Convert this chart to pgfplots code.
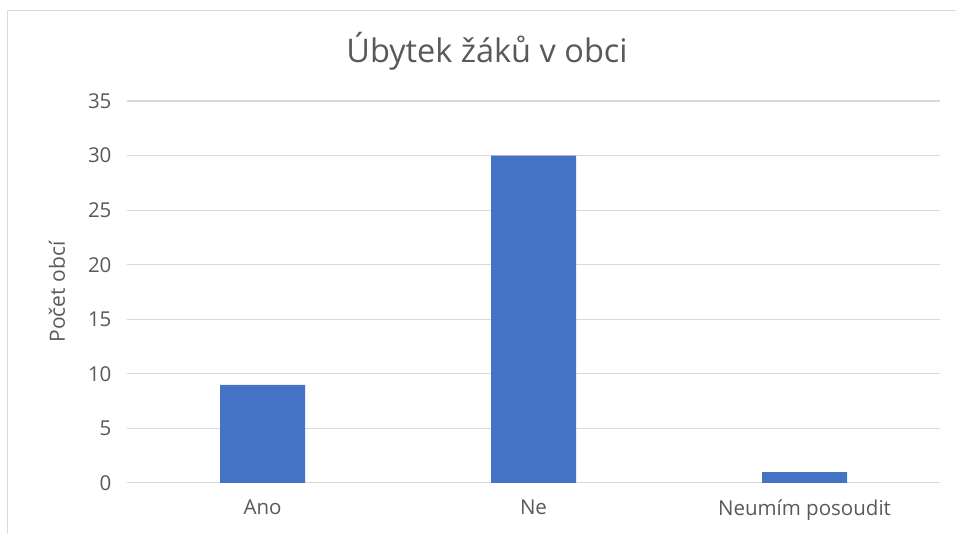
\documentclass[border=0pt]{standalone}
\usepackage{fontspec}
\setmainfont{Open Sans}
\usepackage{pgfplots}
\pgfplotsset{compat=1.18}
\definecolor{bar}{HTML}{4472C4}
\definecolor{grd}{HTML}{D9D9D9}
\definecolor{txt}{HTML}{595959}
\begin{document}
\begin{tikzpicture}
\useasboundingbox (0,0) rectangle (956pt,533pt);
\draw[grd, line width=1pt] (7pt,-10pt) rectangle (970pt,522pt);
\node[txt, font=\fontsize{32.5}{34}\selectfont] at (487pt,482pt) {Úbytek žáků v obci};
\begin{axis}[
  at={(127pt,50pt)}, anchor=south west,
  scale only axis, width=813pt, height=382pt,
  xmin=-0.5, xmax=2.5, ymin=0, ymax=35,
  ytick={0,5,...,35},
  xtick={0,1,2},
  xticklabels={Ano,Ne,Neumím posoudit},
  axis line style={draw=none},
  major tick length=0pt,
  ymajorgrids, grid style={grd, line width=1pt},
  tick label style={txt, font=\fontsize{20.5}{22}\selectfont},
  /pgf/number format/assume math mode=true,
  yticklabel style={xshift=-12pt},
  xticklabel style={yshift=-13pt},
  ylabel={Počet obcí},
  ylabel style={txt, font=\fontsize{21}{23}\selectfont, at={(ticklabel cs:0.5)}, yshift=16pt},
  ybar, bar width=85pt,
]
\addplot[fill=bar, draw=none] coordinates {(0,9) (1,30) (2,1)};
\end{axis}
\end{tikzpicture}
\end{document}
